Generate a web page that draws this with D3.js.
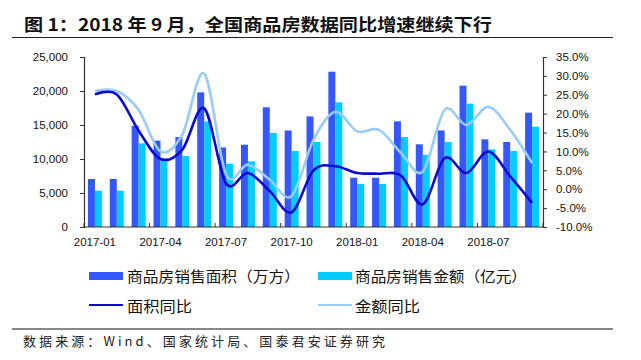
<!DOCTYPE html>
<html><head><meta charset="utf-8">
<script src="https://cdn.jsdelivr.net/npm/d3@7"></script>
<style>
html,body{margin:0;padding:0;background:#fff;}
svg{display:block;}
</style></head>
<body>
<svg id="c" width="641" height="360"></svg>
<script>
const months = ["2017-01","2017-02","2017-03","2017-04","2017-05","2017-06","2017-07","2017-08","2017-09","2017-10","2017-11","2017-12","2018-01","2018-02","2018-03","2018-04","2018-05","2018-06","2018-07","2018-08","2018-09"];
const areaSales = [7060,7060,14900,12700,13240,19800,11700,12100,17600,14200,16270,22840,7250,7250,15540,12160,14200,20780,12890,12500,16810];
const amountSales = [5340,5340,12300,10100,10440,15540,9310,9660,13820,11180,12500,18330,6320,6320,13240,10590,12500,18140,11420,11180,14750];
const areaYoY = [25.1,25.1,15.5,8.0,10.5,21.4,1.5,4.3,-0.5,-6.1,5.0,6.1,4.3,4.1,3.6,-4.0,8.2,4.3,10.0,3.4,-3.6];
const amountYoY = [26.0,26.0,21.0,10.0,14.5,30.6,3.9,6.5,2.5,-1.8,13.1,20.5,15.3,15.7,9.6,4.7,21.0,17.0,21.8,15.7,6.9];
const leftTicks = [0,5000,10000,15000,20000,25000];
const rightTicks = [-10,-5,0,5,10,15,20,25,30,35];
const xLabels = ["2017-01","2017-04","2017-07","2017-10","2018-01","2018-04","2018-07"];
const legendItems = ["商品房销售面积（万方）","商品房销售金额（亿元）","面积同比","金额同比"];
const titleText = "图 1：2018 年 9 月，全国商品房数据同比增速继续下行";
const sourceText = "数据来源：Wind、国家统计局、国泰君安证券研究";

const C_AREA = "#3557FF", C_AMT = "#00CCFF", C_L1 = "#0A0AD2", C_L2 = "#99CCF8";
const svg = d3.select("#c");
const X0 = 84, X1 = 543, YT = 57, YB = 227;

const x = d3.scaleBand().domain(months).range([X0, X1]).paddingInner(0.36).paddingOuter(0.18);
const yL = d3.scaleLinear().domain([0,25000]).range([YB, YT]);
const yR = d3.scaleLinear().domain([-10,35]).range([YB, YT]);
const bw = x.bandwidth()/2;

// title
svg.append("text").attr("x",24).attr("y",31).attr("font-family","'Noto Sans CJK SC'").attr("font-weight","bold")
  .attr("font-size",17).attr("fill","#111").attr("textLength",468).attr("lengthAdjust","spacingAndGlyphs").text(titleText);
svg.append("line").attr("x1",12).attr("x2",613).attr("y1",37.5).attr("y2",37.5).attr("stroke","#222").attr("stroke-width",1.2);

// bars
const g = svg.append("g");
g.selectAll(".ba").data(months).join("rect").attr("x",d=>x(d)).attr("width",bw)
  .attr("y",(d,i)=>yL(areaSales[i])).attr("height",(d,i)=>YB-yL(areaSales[i])).attr("fill",C_AREA);
g.selectAll(".bm").data(months).join("rect").attr("x",d=>x(d)+bw).attr("width",bw)
  .attr("y",(d,i)=>yL(amountSales[i])).attr("height",(d,i)=>YB-yL(amountSales[i])).attr("fill",C_AMT);

// lines
const cx = d => x(d) + x.bandwidth()/2;
const line = arr => d3.line().x((d,i)=>cx(months[i])).y(d=>yR(d)).curve(d3.curveCardinal.tension(0))(arr);
svg.append("path").attr("d",line(amountYoY)).attr("fill","none").attr("stroke",C_L2).attr("stroke-width",2.6);
svg.append("path").attr("d",line(areaYoY)).attr("fill","none").attr("stroke",C_L1).attr("stroke-width",2.6);

// axes
const axCol = "#333";
const font = "'Liberation Sans', Arial, sans-serif";
const left = svg.append("g").attr("transform",`translate(${X0},0)`).call(d3.axisLeft(yL).tickValues(leftTicks).tickSize(4).tickPadding(12).tickFormat(d3.format(",")));
const right = svg.append("g").attr("transform",`translate(${X1},0)`).call(d3.axisRight(yR).tickValues(rightTicks).tickSize(4).tickPadding(9).tickFormat(d=>d.toFixed(1)+"%"));
[left,right].forEach(a=>{
  a.select(".domain").attr("stroke",axCol).attr("stroke-width",1.2);
  a.selectAll(".tick line").attr("stroke",axCol);
  a.selectAll("text").attr("font-family",font).attr("font-size",11.5).attr("fill","#111");
});
right.selectAll("text").attr("text-anchor","start");

// x axis
svg.append("line").attr("x1",X0).attr("x2",X1).attr("y1",YB).attr("y2",YB).attr("stroke",axCol).attr("stroke-width",1.2);
const step = x.step();
svg.selectAll(".xt").data(d3.range(0,22,3)).join("line").attr("x1",i=>X0+i*step).attr("x2",i=>X0+i*step)
  .attr("y1",YB).attr("y2",YB-4).attr("stroke",axCol);
svg.selectAll(".xl").data(xLabels).join("text").attr("x",d=>cx(d)).attr("y",246).attr("text-anchor","middle")
  .attr("font-family",font).attr("font-size",11.5).attr("fill","#111").text(d=>d);

// legend
const lf = "'Noto Sans CJK SC'";
const lg = svg.append("g");
const lx = [89, 318], ly = [276.5, 306.5];
lg.append("rect").attr("x",lx[0]).attr("y",ly[0]-4.5).attr("width",34).attr("height",8).attr("fill",C_AREA);
lg.append("rect").attr("x",lx[1]).attr("y",ly[0]-4.5).attr("width",34).attr("height",8).attr("fill",C_AMT);
lg.append("line").attr("x1",lx[0]).attr("x2",lx[0]+34).attr("y1",ly[1]-1.5).attr("y2",ly[1]-1.5).attr("stroke",C_L1).attr("stroke-width",2.2);
lg.append("line").attr("x1",lx[1]).attr("x2",lx[1]+34).attr("y1",ly[1]-1.5).attr("y2",ly[1]-1.5).attr("stroke",C_L2).attr("stroke-width",2.2);
const lpos = [[127,ly[0],173],[355,ly[0],172],[127,ly[1],65],[355,ly[1],65]];
lpos.forEach((p,i)=>{
  lg.append("text").attr("x",p[0]).attr("y",p[1]).attr("dy","0.36em").attr("font-family",lf).attr("font-size",14.5)
    .attr("fill","#111").attr("textLength",p[2]).attr("lengthAdjust","spacingAndGlyphs").text(legendItems[i]);
});

// footer
svg.append("line").attr("x1",12).attr("x2",613).attr("y1",329).attr("y2",329).attr("stroke","#888").attr("stroke-width",2);
svg.append("text").attr("x",23).attr("y",345.5).attr("font-family",lf).attr("font-size",13).attr("fill","#222")
  .attr("textLength",362).attr("lengthAdjust","spacing").text(sourceText);
</script>
</body></html>
